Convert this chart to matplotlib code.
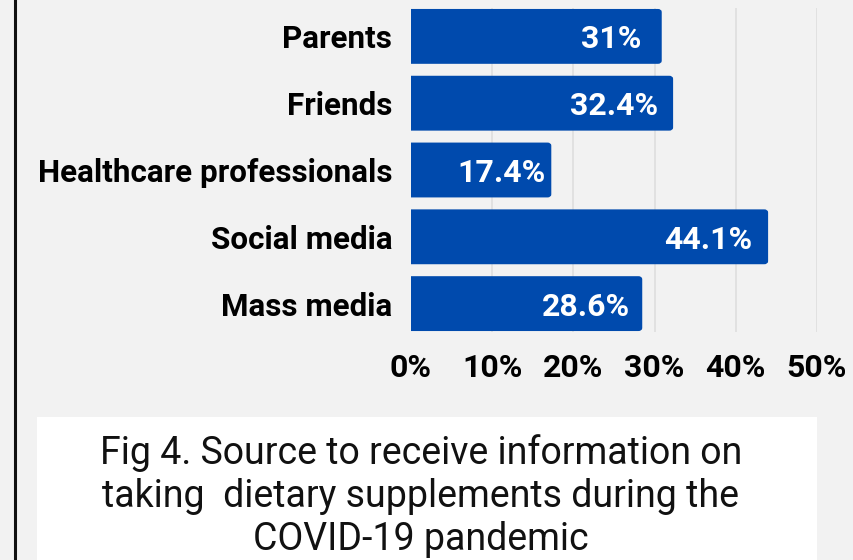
import matplotlib
matplotlib.use("Agg")
import matplotlib.pyplot as plt
from matplotlib.patches import FancyBboxPatch, Rectangle
from matplotlib.lines import Line2D
from matplotlib.transforms import offset_copy

categories = ["Parents", "Friends", "Healthcare professionals", "Social media", "Mass media"]
shares = [31.0, 32.4, 17.4, 44.1, 28.6]
tick_values = [0, 10, 20, 30, 40, 50]
tick_labels = ["0%", "10%", "20%", "30%", "40%", "50%"]
caption = ("Fig 4. Source to receive information on\n"
           "taking  dietary supplements during the\n"
           "COVID-19 pandemic")

W, H, DPI = 854, 560, 100
BG = "#f2f2f2"
BAR = "#004aad"
GRID = "#dedede"

fig = plt.figure(figsize=(W / DPI, H / DPI), dpi=DPI, facecolor=BG)

# plot area in pixel coordinates
x0, x1 = 411, 817
y_top, y_bot = 8, 332
ax = fig.add_axes([x0 / W, 1 - y_bot / H, (x1 - x0) / W, (y_bot - y_top) / H])
ax.set_facecolor(BG)

bar_h = 0.85
n = len(categories)
ax.set_xlim(0, 50)
ax.set_ylim(n - 1 + bar_h / 2, -bar_h / 2)

for v in tick_values[1:]:
    ax.axvline(v, color=GRID, lw=1.2, zorder=0)

# bars with slightly rounded right corners
for i, v in enumerate(shares):
    patch = FancyBboxPatch((-1.0, i - bar_h / 2 + 0.03), v + 1.0 - 0.25, bar_h - 0.06,
                           boxstyle="round,pad=0.0,rounding_size=0.35",
                           mutation_aspect=0.09,
                           fc=BAR, ec=BAR, lw=1.5, zorder=2, clip_on=True)
    ax.add_patch(patch)

pads = [21, 16, 7, 17, 13]
for i, v in enumerate(shares):
    label = f"{v:g}%"
    tr = offset_copy(ax.transData, fig=fig, x=-pads[i], y=0, units="dots")
    ax.text(v, i, label, transform=tr, ha="right", va="center_baseline",
            color="white", fontsize=23, fontweight="bold", family="Roboto", zorder=3)

ax.set_yticks(range(n))
ax.set_yticklabels(categories, fontsize=22.6, fontweight="bold", family="Roboto")
ax.set_xticks(tick_values)
ax.set_xticklabels(tick_labels, fontsize=23, fontweight="bold", family="Roboto")
ax.tick_params(axis="both", length=0, colors="black")
ax.tick_params(axis="y", pad=13.5)
ax.tick_params(axis="x", pad=15)
for s in ax.spines.values():
    s.set_visible(False)

# left frame line
fig.add_artist(Line2D([15 / W, 15 / W], [0, 1], color="#111111", lw=2.2,
                      transform=fig.transFigure))

# caption panel
fig.add_artist(Rectangle((37 / W, 0), (817 - 37) / W, (H - 417) / H,
                         transform=fig.transFigure, fc="white", ec="none"))
fig.text(421 / W, 1 - 496 / H, caption, ha="center", va="center",
         fontsize=27, family="Roboto", color="#111111", linespacing=1.2)

fig.savefig("out.png", dpi=DPI, facecolor=BG)
